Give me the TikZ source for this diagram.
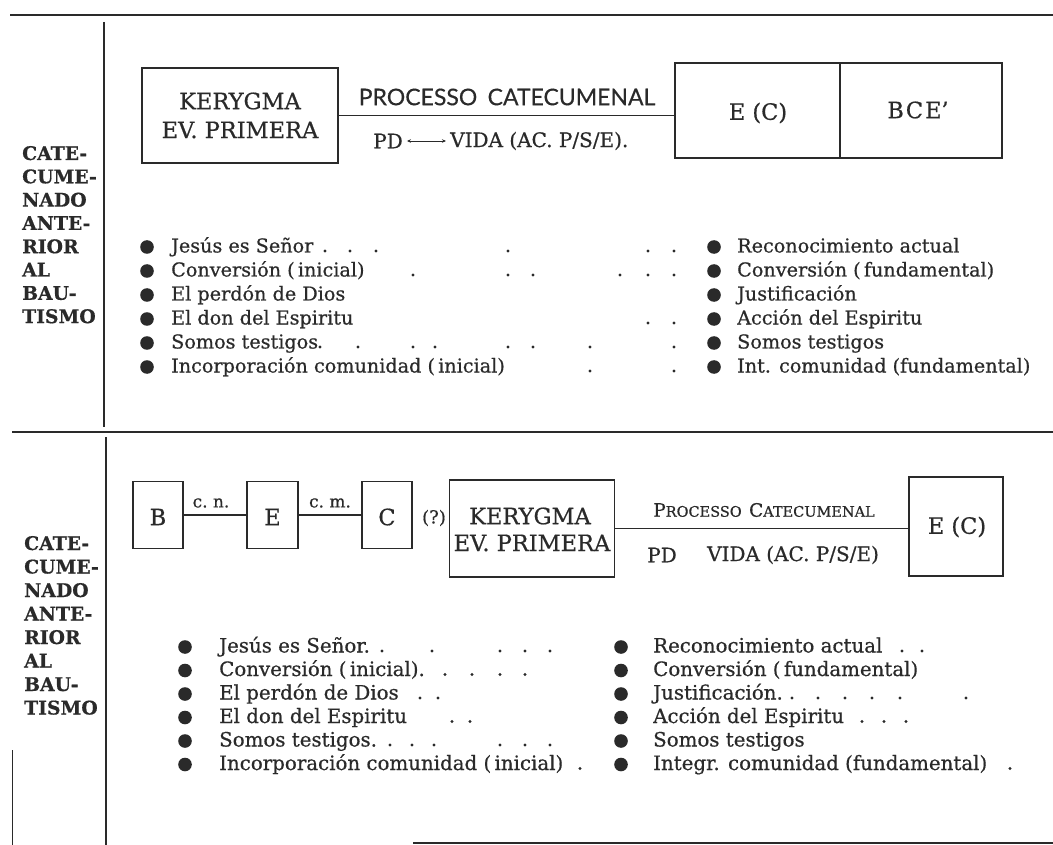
\documentclass[tikz,border=0pt]{standalone}
\usepackage{fontspec}
\setmainfont{DejaVu Serif}[FakeBold=0.6]
\newfontfamily\gillfont{Lato}[FakeBold=0.4]
\usetikzlibrary{arrows.meta}
\definecolor{ink}{HTML}{2A2A2A}
\newcommand\itemfont{\fontsize{19.2}{22}\selectfont}
\newcommand\itemfontb{\fontsize{19.8}{22}\selectfont}
\newcommand\sidefont{\fontsize{18.8}{22}\selectfont\bfseries}
\newcommand\boxfont{\fontsize{22.5}{26}\selectfont}
\newcommand\smallserif{\fontsize{20}{22}\selectfont}
\newcommand\dotrow[2]{\foreach \xx in {#2} \fill[ink] (\xx,#1) circle (1.6);}
\begin{document}
\begin{tikzpicture}[x=1pt,y=-1pt,
  every node/.style={text=ink, inner sep=0pt},
  frame/.style={draw=ink, line width=1.9pt},
  rule/.style={draw=ink, line width=2.5pt},
  vrule/.style={draw=ink, line width=2.2pt},
  link/.style={draw=ink, line width=1.7pt},
  item/.style={anchor=base west, font=\itemfont},
  itemb/.style={anchor=base west, font=\itemfontb},
  side/.style={anchor=base west, font=\sidefont},
  boxtxt/.style={font=\boxfont},
  serif/.style={font=\smallserif}]
\useasboundingbox (0,0) rectangle (1053,845);

% ---------- rules ----------
\draw[rule] (10,15) -- (1053,15);
\draw[vrule] (104,22) -- (104,427);
\draw[rule] (12,432) -- (1053,432);
\draw[vrule] (106,437) -- (106,845);
\draw[rule] (413,843) -- (1053,843);
\draw[ink, line width=0.8pt] (12,750) -- (12,845);

% ---------- top section ----------
\foreach \t [count=\i] in {CATE-,CUME-,NADO,ANTE-,RIOR,AL,BAU-,TISMO}
  \node[side] (sa\i) at (22,{160+23.3*(\i-1)}) {\t};

\node[frame, minimum width=196pt, minimum height=95pt] (ker1) at (240,115.5) {};
\node[boxtxt] (ker1a) at (240,101) {KERYGMA};
\node[boxtxt] (ker1b) at (240,130) {EV. PRIMERA};

\node[frame, minimum width=165pt, minimum height=95pt] (ec1) at (757.5,110.5) {};
\node[frame, minimum width=162pt, minimum height=95pt] (bce1) at (921,110.5) {};
\node[boxtxt] (ec1t) at (758,113) {E (C)};
\node[boxtxt] (bce1t) at (918,110) {B\kern2pt C\kern2pt E’};

\draw[link] (ker1.east) -- (ker1.east -| ec1.west);
\node[font=\gillfont\fontsize{23}{26}\selectfont] (proc1) at (507,97) {PROCESSO\hspace{0.45em}CATECUMENAL};
\node[serif] (pd1) at (388,141) {PD};
\node[serif, anchor=west] (vida1) at (450,141) {VIDA (AC. P/S/E).};
\draw[ink, line width=0.8pt, {Stealth[length=4pt,width=3.5pt]}-{Stealth[length=4pt,width=3.5pt]}]
  ([xshift=4pt]pd1.east) -- ([xshift=-4pt]vida1.west);

\foreach \t [count=\i] in {{Jesús es Señor},{Conversión (\,inicial)},{El perdón de Dios},{El don del Espiritu},{Somos testigos},{Incorporación comunidad (\,inicial)}} {
  \fill[ink] (147,{247+24*(\i-1)}) circle (6.8);
  \node[item] (tl\i) at (171,{252.5+24*(\i-1)}) {\t};
}
\foreach \t [count=\i] in {{Reconocimiento actual},{Conversión (\,fundamental)},{Justificación},{Acción del Espiritu},{Somos testigos},{Int. comunidad (fundamental)}} {
  \fill[ink] (714,{247+24*(\i-1)}) circle (6.8);
  \node[item] (tr\i) at (737,{252.5+24*(\i-1)}) {\t};
}
\dotrow{251}{325,350,376,508,648,674}
\dotrow{275}{413,508,533,620,648,674}
\dotrow{323}{648,674}
\dotrow{347}{320,358,413,435,508,533,590,674}
\dotrow{371}{590,674}

% ---------- bottom section ----------
\foreach \t [count=\i] in {CATE-,CUME-,NADO,ANTE-,RIOR,AL,BAU-,TISMO}
  \node[side] (sb\i) at (24,{550+23.5*(\i-1)}) {\t};

\node[frame, minimum width=50pt, minimum height=67pt] (b2) at (158,515) {};
\node[frame, minimum width=51pt, minimum height=67pt] (e2) at (272.5,515) {};
\node[frame, minimum width=50pt, minimum height=67pt] (c2) at (387,515) {};
\node[boxtxt] (b2t) at (158,517) {B};
\node[boxtxt] (e2t) at (272.5,517) {E};
\node[boxtxt] (c2t) at (387,517) {C};
\draw[link] (b2) -- (e2);
\draw[link] (e2) -- (c2);
\node[font=\fontsize{17}{20}\selectfont] (cn) at (211,503) {c.~n.};
\node[font=\fontsize{17}{20}\selectfont] (cm) at (330,503) {c.~m.};
\node[font=\fontsize{18}{20}\selectfont] (q) at (434,518) {(?)};

\node[frame, minimum width=165pt, minimum height=97pt] (ker2) at (532,528.5) {};
\node[boxtxt] (ker2a) at (530,516) {KERYGMA};
\node[boxtxt] (ker2b) at (532,543) {EV. PRIMERA};
\node[frame, minimum width=94pt, minimum height=99pt] (ec2) at (956,526.5) {};
\node[boxtxt] (ec2t) at (957,527) {E (C)};
\draw[link] (ker2.east) -- (ker2.east -| ec2.west);
\node[font=\fontsize{18.5}{20}\selectfont] (proc2) at (764,510)
  {P{\fontsize{14.5}{16}\selectfont ROCESSO}\hspace{0.4em}C{\fontsize{14.5}{16}\selectfont ATECUMENAL}};
\node[serif] (pd2) at (662,555) {PD};
\node[serif] (vida2) at (793,555) {VIDA (AC. P/S/E)};

\foreach \t [count=\i] in {{Jesús es Señor.},{Conversión (\,inicial).},{El perdón de Dios},{El don del Espiritu},{Somos testigos.},{Incorporación comunidad (\,inicial)}} {
  \fill[ink] (185,{647+23.5*(\i-1)}) circle (6.8);
  \node[itemb] (bl\i) at (219,{652.5+23.5*(\i-1)}) {\t};
}
\foreach \t [count=\i] in {{Reconocimiento actual},{Conversión (\,fundamental)},{Justificación.},{Acción del Espiritu},{Somos testigos},{Integr. comunidad (fundamental)}} {
  \fill[ink] (621,{647+23.5*(\i-1)}) circle (6.8);
  \node[itemb] (br\i) at (653,{652.5+23.5*(\i-1)}) {\t};
}
\dotrow{651}{382,432,500,525,550}
\dotrow{674.5}{445,472,500,525}
\dotrow{698}{420,438}
\dotrow{721.5}{452,470}
\dotrow{745}{390,412,434,500,525,550}
\dotrow{768.5}{580}
\dotrow{651}{902,922}
\dotrow{698}{792,818,845,872,900,966}
\dotrow{721.5}{862,884,906}
\dotrow{768.5}{1010}
\end{tikzpicture}
\end{document}
